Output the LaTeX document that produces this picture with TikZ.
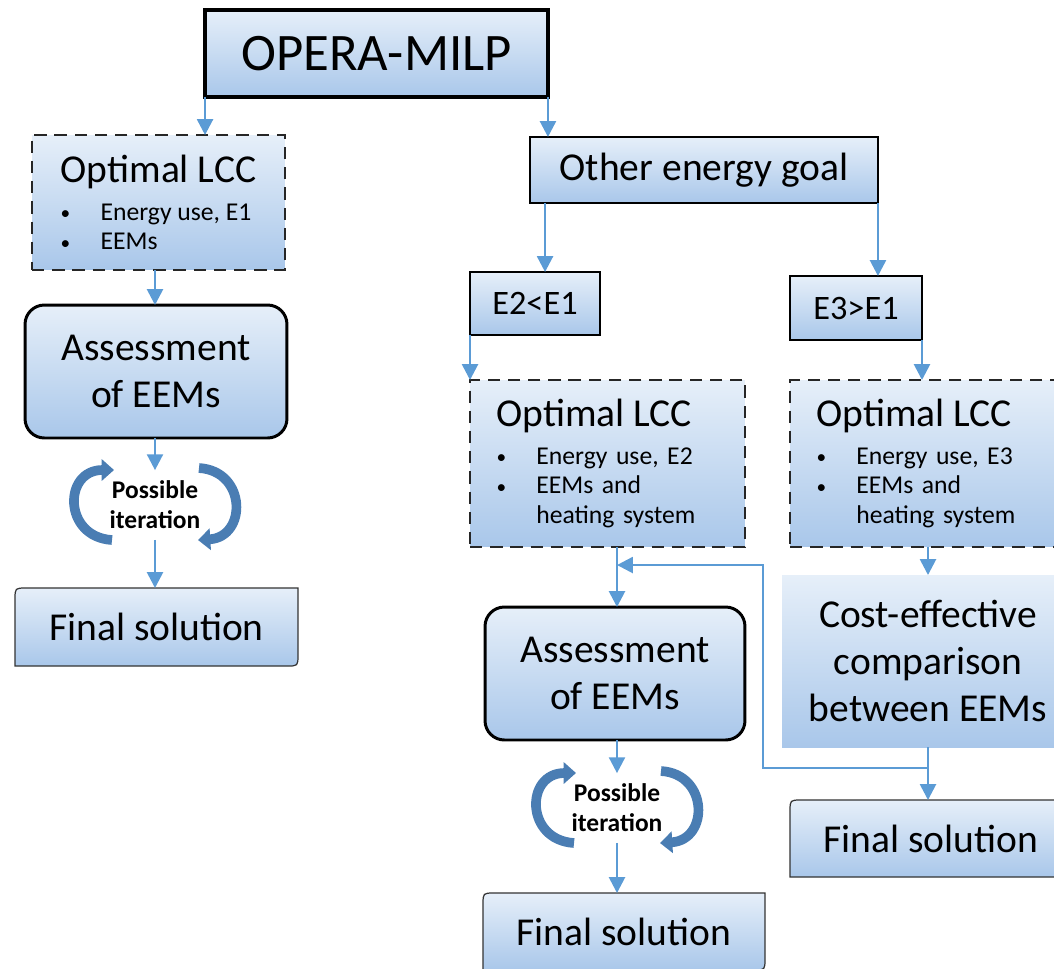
\documentclass[tikz,border=0pt]{standalone}
\usepackage{fontspec}
\setmainfont{Carlito}
\usetikzlibrary{arrows.meta,calc,backgrounds}

\definecolor{flowblue}{HTML}{5B9BD5}
\definecolor{boxtop}{HTML}{E6EFF9}
\definecolor{boxbot}{HTML}{A9C7EA}
\definecolor{iterblue}{HTML}{4A7DB3}
\definecolor{dashgray}{HTML}{262626}

\newcommand{\titlefont}{\fontsize{30}{36}\selectfont}
\newcommand{\boxfont}{\fontsize{22.5}{27}\selectfont}
\newcommand{\listfont}{\fontsize{14.6}{17}\selectfont}
\newcommand{\condfont}{\fontsize{19.5}{23}\selectfont}
\newcommand{\iterfont}{\fontsize{14.5}{17}\selectfont\bfseries}
\newcommand{\bul}{\makebox[22.7pt][l]{\fontsize{11}{13}\selectfont\raisebox{0.5pt}{\textbullet}}}

\tikzset{
  shaded/.style={top color=boxtop, bottom color=boxbot},
  mainbox/.style={shaded, draw=black, line width=2.3pt, font=\titlefont, inner sep=0pt, outer sep=0pt},
  plainbox/.style={shaded, draw=black, line width=1.2pt, inner sep=0pt, outer sep=0pt},
  lccbox/.style={shaded, draw=dashgray, line width=1.4pt, dash pattern=on 7pt off 4.5pt,
    align=left, font=\listfont, inner xsep=0.53cm, inner ysep=0pt, outer sep=0pt},
  assessbox/.style={shaded, draw=black, line width=1.7pt, rounded corners=11pt,
    align=center, font=\boxfont, inner sep=0pt, outer sep=0pt},
  costbox/.style={shaded, align=center, font=\boxfont, inner sep=0pt, outer sep=0pt},
  finalbox/.style={font=\boxfont, inner sep=0pt, outer sep=0pt},
  finalbg/.style={shaded, draw=black!80, line width=0.7pt},
  iterlabel/.style={font=\iterfont, align=center, inner sep=6pt},
  flow/.style={draw=flowblue, line width=1.5pt, -{Triangle[length=9pt,width=9pt]}},
  iterarrow/.style={draw=iterblue, line width=5.5pt, -{Triangle[length=7pt,width=12pt]}}
}

\begin{document}
\begin{tikzpicture}[x=0.02cm,y=-0.02cm]
\useasboundingbox (0,0) rectangle (1054,968);
\clip (0,0) rectangle (1054,968);

% top of the tree
\node[mainbox, minimum width=6.86cm, minimum height=1.74cm] (opera) at (376.5,53.5) {OPERA-MILP};

% left branch: optimal LCC
\node[lccbox, minimum width=5.06cm, minimum height=2.7cm] (lccL) at (158.5,202.5)
  {{\boxfont Optimal LCC}\\[4.5pt]
   \bul Energy use, E1\\
   \bul EEMs};
\node[assessbox, minimum width=5.24cm, minimum height=2.66cm] (assessL) at (156,371.5) {Assessment\\of EEMs};
\node[iterlabel] (iterL) at (155,505) {Possible\\iteration};
\node[finalbox, minimum width=5.66cm, minimum height=1.56cm] (finalL) at (156.5,627) {Final solution};

% right branch: other energy goal
\node[plainbox, font=\boxfont, minimum width=6.96cm, minimum height=1.32cm] (goal) at (704,170) {Other energy goal};
\node[plainbox, font=\condfont, minimum width=2.6cm, minimum height=1.26cm] (lt) at (535,303.5) {E2<E1};
\node[plainbox, font=\condfont, minimum width=2.64cm, minimum height=1.28cm] (gt) at (856,308) {E3>E1};

\node[lccbox, text width=4.44cm, minimum height=3.34cm] (lccM) at (607.5,463.5)
  {{\boxfont Optimal LCC}\\[4.5pt]
   \bul Energy use, E2\\
   \bul EEMs and\\
   \hspace*{22.7pt}heating system};
\node[lccbox, text width=4.44cm, minimum height=3.34cm] (lccR) at (927.5,463.5)
  {{\boxfont Optimal LCC}\\[4.5pt]
   \bul Energy use, E3\\
   \bul EEMs and\\
   \hspace*{22.7pt}heating system};

\node[assessbox, minimum width=5.2cm, minimum height=2.66cm] (assessM) at (615,673.5) {Assessment\\of EEMs};
\node[iterlabel] (iterM) at (617,808) {Possible\\iteration};
\node[finalbox, minimum width=5.64cm, minimum height=1.54cm] (finalM) at (624,931.5) {Final solution};

\node[costbox, minimum width=5.84cm, minimum height=3.44cm] (cost) at (928,661) {Cost-effective\\comparison\\between EEMs};
\node[finalbox, minimum width=5.64cm, minimum height=1.54cm] (finalR) at (931,838.5) {Final solution};

% final solution boxes, rounded on two corners
\begin{pgfonlayer}{background}
\clip (0,0) rectangle (1054,968);
\foreach \n in {finalL,finalM,finalR}
  \draw[finalbg] ($(\n.north west)+(0,11)$) .. controls (\n.north west) .. ($(\n.north west)+(11,0)$)
    -- (\n.north east) -- ($(\n.south east)+(0,-11)$) .. controls (\n.south east) .. ($(\n.south east)+(-11,0)$)
    -- (\n.south west) -- cycle;
\end{pgfonlayer}

% possible iteration arrows
\foreach \n in {iterL,iterM}{
  \begin{scope}[shift={(\n.center)}]
    \draw[iterarrow] (-43,35) .. controls (-92,32) and (-92,-35) .. (-41,-35);
    \draw[iterarrow] (44,-37) .. controls (92,-34) and (92,32) .. (43,35);
  \end{scope}
}

% connectors
\coordinate (goalout) at ($(goal.south west)+(15,0)$);
\draw[flow] (opera.south west) -- (opera.south west |- lccL.north);
\draw[flow] (opera.south east) -- (opera.south east |- goal.north);
\draw[flow] (lccL.south -| iterL) -- (assessL.north -| iterL);
\draw[flow] (assessL.south -| iterL) -- (iterL.north);
\draw[flow] (iterL.south) -- (iterL.south |- finalL.north);

\draw[flow] (goalout) -- (goalout |- lt.north);
\draw[flow] (goal.south east) -- (goal.south east |- gt.north);
\draw[flow] (lt.south west) -- (lt.south west |- lccM.north);
\draw[flow] (gt.south east) -- (gt.south east |- lccR.north);

\draw[flow] (lccM.south -| iterM) -- (assessM.north -| iterM);
\draw[flow] (assessM.south -| iterM) -- (iterM.north);
\draw[flow] (iterM.south) -- (iterM.south |- finalM.north);

\draw[flow] (lccR.south -| cost.north) -- (cost.north);
\draw[flow] (cost.south) -- (cost.south |- finalR.north);

% feedback to the assessment
\coordinate (split) at ($(cost.south)+(0,21)$);
\coordinate (join) at ($(assessM.north -| iterM)+(0,-42)$);
\draw[flow] (split) -- ++(-165,0) |- (join);

\end{tikzpicture}
\end{document}
